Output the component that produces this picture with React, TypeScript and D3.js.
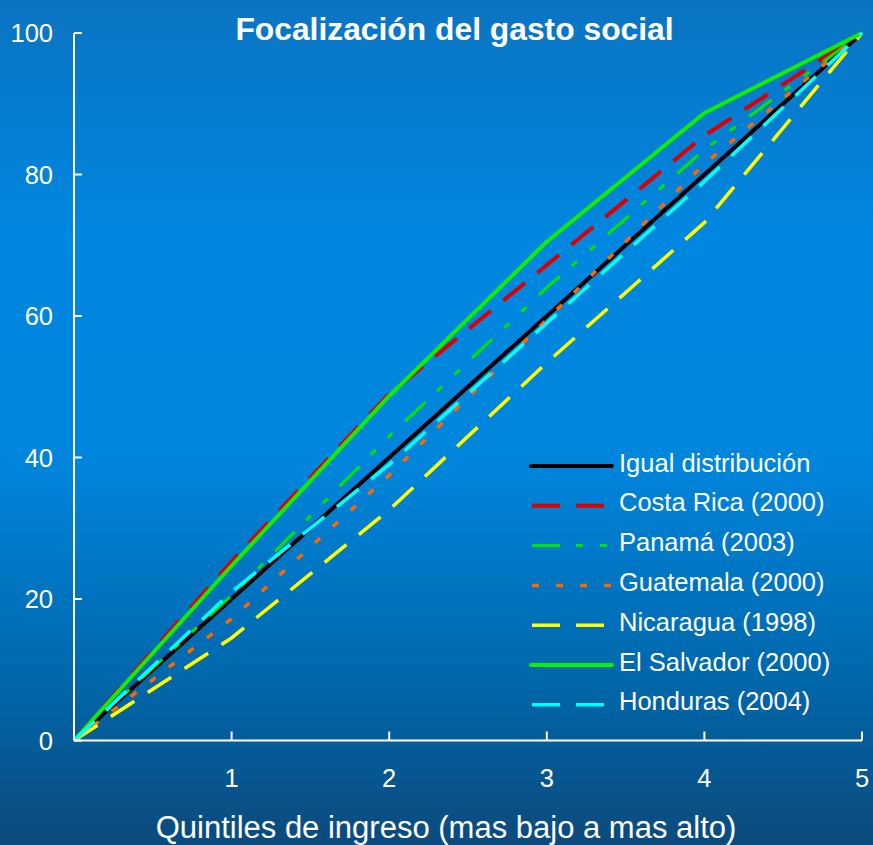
import React from "react";
import * as d3 from "d3";

const quintiles = [0, 1, 2, 3, 4, 5];
const igual = [0, 20, 40, 60, 80, 100];
const costaRica = [0, 25.3, 49, 67.2, 85.5, 100];
const panama = [0, 20.5, 43, 64, 83.5, 100];
const guatemala = [0, 17.2, 37.5, 59.5, 81.5, 100];
const nicaragua = [0, 14.5, 32.6, 53.4, 73.2, 100];
const elSalvador = [0, 24.7, 48.7, 70.5, 88.7, 100];
const honduras = [0, 21, 39, 59, 79, 100];

const xTicks = [1, 2, 3, 4, 5];
const yTicks = [0, 20, 40, 60, 80, 100];

const seriesNames = [
  "Igual distribución",
  "Costa Rica (2000)",
  "Panamá (2003)",
  "Guatemala (2000)",
  "Nicaragua (1998)",
  "El Salvador (2000)",
  "Honduras (2004)",
];
const seriesValues = [igual, costaRica, panama, guatemala, nicaragua, elSalvador, honduras];

const styles = [
  { color: "#000000", dash: "", width: 4 },
  { color: "#dd0000", dash: "28 16", width: 4 },
  { color: "#00e600", dash: "28 16 7 17 7 17", width: 3 },
  { color: "#ff6600", dash: "7 17", width: 3.5 },
  { color: "#ffff00", dash: "28 16", width: 3.5 },
  { color: "#11ee00", dash: "", width: 4 },
  { color: "#00ffff", dash: "28 16", width: 3.5 },
];

const W = 873;
const H = 845;
const FONT = "'Liberation Sans', Arial, sans-serif";

export default function App() {
  const x = d3.scaleLinear().domain([0, 5]).range([74, 862]);
  const y = d3.scaleLinear().domain([0, 100]).range([740.5, 33]);
  const line = d3
    .line<number>()
    .x((_, i) => x(quintiles[i]))
    .y((d) => y(d));

  const legendX0 = 531;
  const legendX1 = 612;
  const legendY0 = 466;
  const legendStep = 39.8;

  return (
    <svg
      width={W}
      height={H}
      style={{ position: "absolute", left: 0, top: 0, display: "block" }}
      fontFamily={FONT}
    >
      <defs>
        <linearGradient id="bg" x1="0" y1="0" x2="0" y2="1">
          <stop offset="0%" stopColor="#0a74c2" />
          <stop offset="28%" stopColor="#0087df" />
          <stop offset="55%" stopColor="#0085dc" />
          <stop offset="80%" stopColor="#0068ac" />
          <stop offset="100%" stopColor="#0c4a7c" />
        </linearGradient>
      </defs>
      <rect x={0} y={0} width={W} height={H} fill="url(#bg)" />

      <text
        x={454.5}
        y={40}
        textAnchor="middle"
        fill="#ffffff"
        fontWeight="bold"
        fontSize={31.8}
      >
        Focalización del gasto social
      </text>

      {seriesValues.map((vals, i) => (
        <path
          key={seriesNames[i]}
          d={line(vals) || ""}
          fill="none"
          stroke={styles[i].color}
          strokeWidth={styles[i].width}
          strokeDasharray={styles[i].dash || undefined}
          strokeLinejoin="round"
        />
      ))}

      {/* axes */}
      <line x1={x(0)} x2={x(0)} y1={y(100)} y2={y(0)} stroke="#fff" strokeWidth={2} />
      <line x1={x(0)} x2={x(5)} y1={y(0)} y2={y(0)} stroke="#fff" strokeWidth={2} />
      {yTicks.map((t) => (
        <g key={"y" + t}>
          <line x1={x(0)} x2={x(0) + 8} y1={y(t)} y2={y(t)} stroke="#fff" strokeWidth={2} />
          <text
            x={53}
            y={y(t) + 9}
            textAnchor="end"
            fill="#ffffff"
            fontSize={25.5}
          >
            {t}
          </text>
        </g>
      ))}
      {xTicks.map((t) => (
        <g key={"x" + t}>
          <line x1={x(t)} x2={x(t)} y1={y(0)} y2={y(0) - 9} stroke="#fff" strokeWidth={2} />
          <text
            x={x(t)}
            y={787}
            textAnchor="middle"
            fill="#ffffff"
            fontSize={25.5}
          >
            {t}
          </text>
        </g>
      ))}

      <text x={446} y={838} textAnchor="middle" fill="#ffffff" fontSize={31}>
        Quintiles de ingreso (mas bajo a mas alto)
      </text>

      {/* legend */}
      {seriesNames.map((name, i) => {
        const ly = legendY0 + i * legendStep;
        const st = styles[i];
        const solid = !st.dash;
        return (
          <g key={"lg" + i}>
            <line
              x1={solid ? legendX0 : legendX0 + 1}
              x2={legendX1}
              y1={ly}
              y2={ly}
              stroke={st.color}
              strokeWidth={st.width}
              strokeDasharray={st.dash || undefined}
              strokeLinecap={solid ? "round" : "butt"}
            />
            <text x={619} y={ly + 5.5} fill="#ffffff" fontSize={25.5}>
              {name}
            </text>
          </g>
        );
      })}
    </svg>
  );
}
